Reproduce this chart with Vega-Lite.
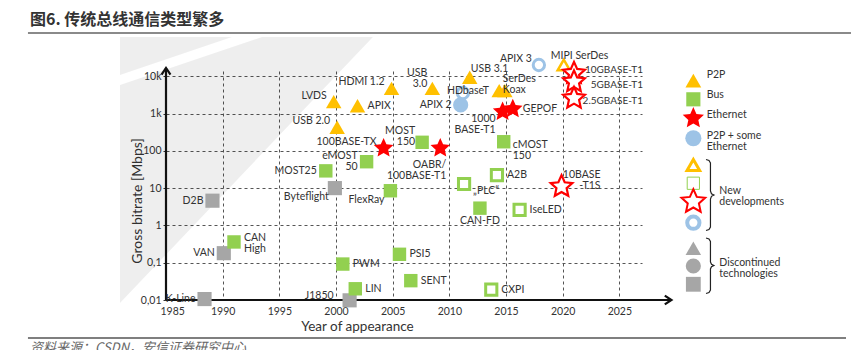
{
  "$schema": "https://vega.github.io/schema/vega-lite/v6.json",
  "autosize": {"type": "none"},
  "padding": {"left": 166, "top": 71, "right": 209, "bottom": 50},
  "width": 476,
  "height": 229,
  "background": "white",
  "config": {"view": {"stroke": null}, "text": {"lineHeight": 11}},
  "datasets": {
    "pts": [
      {"label": "LVDS", "yr": 1999.8, "val": 2080, "type": "P2P", "st": "cur"},
      {"label": "APIX", "yr": 2001.9, "val": 1620, "type": "P2P", "st": "cur"},
      {"label": "HDMI 1.2", "yr": 2004.9, "val": 4730, "type": "P2P", "st": "cur"},
      {"label": "USB 2.0", "yr": 2000.1, "val": 427, "type": "P2P", "st": "cur"},
      {"label": "USB\n3.0", "yr": 2008.5, "val": 4730, "type": "P2P", "st": "cur"},
      {"label": "USB 3.1", "yr": 2011.8, "val": 9350, "type": "P2P", "st": "cur"},
      {"label": null, "yr": 2014.4, "val": 4100, "type": "P2P", "st": "cur"},
      {"label": "SerDes\nKoax", "yr": 2014.9, "val": 4100, "type": "P2P", "st": "cur"},
      {"label": "MOST\n150", "yr": 2007.6, "val": 169, "type": "Bus", "st": "cur"},
      {"label": "eMOST\n50", "yr": 2002.7, "val": 51, "type": "Bus", "st": "cur"},
      {"label": "MOST25", "yr": 1999.1, "val": 29, "type": "Bus", "st": "cur"},
      {"label": "FlexRay", "yr": 2004.8, "val": 8.5, "type": "Bus", "st": "cur"},
      {"label": "CAN\nHigh", "yr": 1991.0, "val": 0.36, "type": "Bus", "st": "cur"},
      {"label": "PWM", "yr": 2000.6, "val": 0.092, "type": "Bus", "st": "cur"},
      {"label": "LIN", "yr": 2001.7, "val": 0.02, "type": "Bus", "st": "cur"},
      {"label": "PSI5", "yr": 2005.6, "val": 0.168, "type": "Bus", "st": "cur"},
      {"label": "SENT", "yr": 2006.6, "val": 0.033, "type": "Bus", "st": "cur"},
      {"label": "cMOST\n150", "yr": 2014.8, "val": 175, "type": "Bus", "st": "cur"},
      {"label": "CAN-FD", "yr": 2012.7, "val": 2.9, "type": "Bus", "st": "cur"},
      {"label": "100BASE-TX", "yr": 2004.2, "val": 117, "type": "Ethernet", "st": "cur"},
      {"label": "OABR/\n100BASE-T1", "yr": 2009.2, "val": 117, "type": "Ethernet", "st": "cur"},
      {"label": "1000\nBASE-T1", "yr": 2014.7, "val": 1120, "type": "Ethernet", "st": "cur"},
      {"label": "GEPOF", "yr": 2015.6, "val": 1320, "type": "Ethernet", "st": "cur"},
      {"label": "APIX 2", "yr": 2011.0, "val": 1700, "type": "P2P+Eth", "st": "cur"},
      {"label": "MIPI SerDes", "yr": 2020.1, "val": 20000, "type": "P2P", "st": "new"},
      {"label": "HDbaseT", "yr": 2011.2, "val": 3550, "type": "P2P+Eth", "st": "new"},
      {"label": "APIX 3", "yr": 2017.9, "val": 20000, "type": "P2P+Eth", "st": "new"},
      {"label": "10GBASE-T1", "yr": 2021.0, "val": 12000, "type": "Ethernet", "st": "new"},
      {"label": "5GBASE-T1", "yr": 2021.0, "val": 7100, "type": "Ethernet", "st": "new"},
      {"label": "2.5GBASE-T1", "yr": 2021.0, "val": 2560, "type": "Ethernet", "st": "new"},
      {"label": "10BASE\n-T1S", "yr": 2019.9, "val": 11, "type": "Ethernet", "st": "new"},
      {"label": "A2B", "yr": 2014.2, "val": 22.4, "type": "Bus", "st": "new"},
      {"label": "„PLC“", "yr": 2011.3, "val": 12.9, "type": "Bus", "st": "new"},
      {"label": "IseLED", "yr": 2016.2, "val": 2.6, "type": "Bus", "st": "new"},
      {"label": "CXPI", "yr": 2013.7, "val": 0.019, "type": "Bus", "st": "new"},
      {"label": "Byteflight", "yr": 1999.9, "val": 10, "type": "Bus", "st": "old"},
      {"label": "D2B", "yr": 1989.1, "val": 4.6, "type": "Bus", "st": "old"},
      {"label": "VAN", "yr": 1990.1, "val": 0.18, "type": "Bus", "st": "old"},
      {"label": "K-Line", "yr": 1988.4, "val": 0.0106, "type": "Bus", "st": "old"},
      {"label": "J1850", "yr": 2001.2, "val": 0.0098, "type": "Bus", "st": "old"}
    ],
    "lg": [
      {"type": "P2P", "st": "cur", "yr": 2031.53, "val": 7590},
      {"type": "Bus", "st": "cur", "yr": 2031.53, "val": 2404},
      {"type": "Ethernet", "st": "cur", "yr": 2031.53, "val": 745},
      {"type": "P2P+Eth", "st": "cur", "yr": 2031.53, "val": 217},
      {"type": "P2P", "st": "new", "yr": 2031.53, "val": 41.7},
      {"type": "Bus", "st": "new", "yr": 2031.53, "val": 13.5},
      {"type": "Ethernet", "st": "new", "yr": 2031.53, "val": 4.33},
      {"type": "P2P+Eth", "st": "new", "yr": 2031.53, "val": 1.18},
      {"type": "P2P", "st": "old", "yr": 2031.53, "val": 0.243},
      {"type": "P2P+Eth", "st": "old", "yr": 2031.53, "val": 0.0816},
      {"type": "Bus", "st": "old", "yr": 2031.53, "val": 0.0264}
    ],
    "lgt": [
      {"text": "P2P", "yr": 2032.71, "val": 10790},
      {"text": "Bus", "yr": 2032.71, "val": 3133},
      {"text": "Ethernet", "yr": 2032.71, "val": 912},
      {"text": "P2P + some\nEthernet", "yr": 2032.71, "val": 250},
      {"text": "New\ndevelopments", "yr": 2033.82, "val": 8.5},
      {"text": "Discontinued\ntechnologies", "yr": 2033.82, "val": 0.1}
    ],
    "br": [
      {"b": 1, "o": 1, "yr": 2032.65, "val": 58.5},
      {"b": 1, "o": 2, "yr": 2032.91, "val": 55.0},
      {"b": 1, "o": 3, "yr": 2033.04, "val": 47.1},
      {"b": 1, "o": 4, "yr": 2033.04, "val": 8.36},
      {"b": 1, "o": 5, "yr": 2033.13, "val": 7.08},
      {"b": 1, "o": 6, "yr": 2033.35, "val": 6.53},
      {"b": 1, "o": 7, "yr": 2033.13, "val": 6.03},
      {"b": 1, "o": 8, "yr": 2033.04, "val": 5.10},
      {"b": 1, "o": 9, "yr": 2033.04, "val": 0.906},
      {"b": 1, "o": 10, "yr": 2032.91, "val": 0.776},
      {"b": 1, "o": 11, "yr": 2032.65, "val": 0.730},
      {"b": 2, "o": 1, "yr": 2032.65, "val": 0.459},
      {"b": 2, "o": 2, "yr": 2032.91, "val": 0.431},
      {"b": 2, "o": 3, "yr": 2033.04, "val": 0.370},
      {"b": 2, "o": 4, "yr": 2033.04, "val": 0.1045},
      {"b": 2, "o": 5, "yr": 2033.13, "val": 0.0912},
      {"b": 2, "o": 6, "yr": 2033.35, "val": 0.0841},
      {"b": 2, "o": 7, "yr": 2033.13, "val": 0.0776},
      {"b": 2, "o": 8, "yr": 2033.04, "val": 0.0678},
      {"b": 2, "o": 9, "yr": 2033.04, "val": 0.01853},
      {"b": 2, "o": 10, "yr": 2032.91, "val": 0.01589},
      {"b": 2, "o": 11, "yr": 2032.65, "val": 0.01493}
    ],
    "bg": [
      {"part": "a", "yr": 1980.94, "val": 0.00831, "val2": 5821},
      {"part": "a", "yr": 1993.47, "val": 84.1, "val2": 112400},
      {"part": "a", "yr": 2003.26, "val": 112400, "val2": 112400},
      {"part": "b", "yr": 1980.94, "val": 10790, "val2": 112400},
      {"part": "b", "yr": 1990.82, "val": 112400, "val2": 112400}
    ],
    "axl": [
      {"yr": 1985, "val": 0.01, "yr2": 1985, "val2": 16600},
      {"yr": 1985, "val": 0.01, "yr2": 2029.6, "val2": 0.01}
    ],
    "arr": [
      {"dir": "up", "yr": 1985, "val": 16600},
      {"dir": "right", "yr": 2029.6, "val": 0.01}
    ],
    "fr": [
      {"kind": "top", "yr": 1972.82, "val": 144200, "yr2": 2045.44, "val2": 144200},
      {"kind": "bottom", "yr": 1972.82, "val": 0.000957, "yr2": 2045.0, "val2": 0.000957}
    ],
    "txt": [
      {"kind": "head", "text": "图6. 传统总线通信类型繁多", "yr": 1973.0, "val": 321400},
      {"kind": "foot", "text": "资料来源：CSDN，安信证券研究中心", "yr": 1973.0, "val": 0.00077}
    ]
  },
  "encoding": {
    "x": {
      "field": "yr", "type": "quantitative",
      "scale": {"domain": [1985, 2027], "nice": false, "zero": false},
      "axis": {
        "values": [1985, 1990, 1995, 2000, 2005, 2010, 2015, 2020, 2025],
        "format": "d", "grid": true, "gridDash": [3, 3], "gridColor": "#555", "gridWidth": 1,
        "domain": false, "ticks": false, "labelPadding": 6, "labelFlush": true, "labelFlushOffset": 6,
        "labelFont": "Lato", "labelFontSize": 10.5, "labelColor": "#333",
        "title": "Year of appearance", "titleFont": "Lato", "titleFontSize": 13.5,
        "titleFontWeight": "normal", "titleColor": "#333",
        "titleX": 191, "titleY": 26, "titleBaseline": "middle", "titleAlign": "center"
      }
    },
    "y": {
      "field": "val", "type": "quantitative",
      "scale": {"type": "log", "domain": [0.01, 13800], "nice": false},
      "axis": {
        "values": [0.01, 0.1, 1, 10, 100, 1000, 10000],
        "labelExpr": "datum.value >= 10000 ? '10k' : datum.value >= 1000 ? '1k' : datum.value >= 100 ? '100' : datum.value >= 10 ? '10' : datum.value >= 1 ? '1' : datum.value >= 0.1 ? '0,1' : '0,01'",
        "grid": true, "gridDash": [3, 3], "gridColor": "#555", "gridWidth": 1,
        "domain": false, "ticks": true, "tickSize": 3, "tickColor": "#333", "labelPadding": 2,
        "labelFont": "Lato", "labelFontSize": 10.5, "labelColor": "#333",
        "title": "Gross bitrate [Mbps]", "titleFont": "Lato", "titleFontSize": 14,
        "titleFontWeight": "normal", "titleColor": "#333",
        "titleX": -28.5, "titleY": 129.5, "titleBaseline": "middle", "titleAlign": "center"
      }
    }
  },
  "resolve": {"scale": {"size": "independent"}},
  "layer": [
    {
      "data": {"name": "bg"},
      "mark": {"type": "area", "fill": "#000", "opacity": 0.065},
      "encoding": {"y2": {"field": "val2"}, "detail": {"field": "part"}}
    },
    {
      "data": {"name": "fr"},
      "transform": [{"filter": "datum.kind == 'top'"}],
      "mark": {"type": "rule", "stroke": "#8a8a8a", "strokeWidth": 2},
      "encoding": {"x2": {"field": "yr2"}, "y2": {"field": "val2"}}
    },
    {
      "data": {"name": "fr"},
      "transform": [{"filter": "datum.kind == 'bottom'"}],
      "mark": {"type": "rule", "stroke": "#555", "strokeWidth": 1.5},
      "encoding": {"x2": {"field": "yr2"}, "y2": {"field": "val2"}}
    },
    {
      "data": {"name": "txt"},
      "transform": [{"filter": "datum.kind == 'head'"}],
      "mark": {"type": "text", "align": "left", "baseline": "middle", "font": "Noto Sans CJK SC", "fontSize": 16, "fontWeight": "bold", "fill": "#333"},
      "encoding": {"text": {"field": "text"}}
    },
    {
      "data": {"name": "txt"},
      "transform": [{"filter": "datum.kind == 'foot'"}],
      "mark": {"type": "text", "align": "left", "baseline": "top", "font": "Noto Sans CJK SC", "fontSize": 13, "fontStyle": "italic", "fill": "#666"},
      "encoding": {"text": {"field": "text"}}
    },
    {
      "data": {"name": "axl"},
      "mark": {"type": "rule", "stroke": "#111", "strokeWidth": 2.2},
      "encoding": {"x2": {"field": "yr2"}, "y2": {"field": "val2"}}
    },
    {
      "data": {"name": "arr"},
      "transform": [{"filter": "datum.dir == 'up'"}],
      "mark": {"type": "point", "shape": "M-0.6,0.9L0,0L0.6,0.9", "size": 220, "filled": false, "stroke": "#111", "strokeWidth": 2.2, "opacity": 1}
    },
    {
      "data": {"name": "arr"},
      "transform": [{"filter": "datum.dir == 'right'"}],
      "mark": {"type": "point", "shape": "M-0.9,-0.6L0,0L-0.9,0.6", "size": 220, "filled": false, "stroke": "#111", "strokeWidth": 2.2, "opacity": 1}
    },
    {
      "data": {"name": "pts"},
      "transform": [{"filter": "datum.st == 'old'"}],
      "mark": {"type": "point", "filled": true, "fill": "#A6A6A6", "strokeWidth": 0, "opacity": 1},
      "encoding": {
        "shape": {"field": "type", "scale": {"domain": ["P2P", "Bus", "Ethernet", "P2P+Eth"], "range": ["triangle-up", "square", "M0,-1L0.276,-0.38L0.951,-0.309L0.447,0.145L0.588,0.809L0,0.47L-0.588,0.809L-0.447,0.145L-0.951,-0.309L-0.276,-0.38Z", "circle"]}, "legend": null},
        "size": {"field": "type", "scale": {"type": "ordinal", "domain": ["P2P", "Bus", "Ethernet", "P2P+Eth"], "range": [230, 200, 420, 230]}, "legend": null}
      }
    },
    {
      "data": {"name": "pts"},
      "transform": [{"filter": "datum.st == 'cur'"}],
      "mark": {"type": "point", "filled": true, "strokeWidth": 0, "opacity": 1},
      "encoding": {
        "shape": {"field": "type", "legend": null},
        "fill": {"field": "type", "scale": {"domain": ["P2P", "Bus", "Ethernet", "P2P+Eth"], "range": ["#FFC000", "#92D050", "#FF0000", "#9DC3E6"]}, "legend": null},
        "size": {"field": "type", "scale": {"type": "ordinal", "domain": ["P2P", "Bus", "Ethernet", "P2P+Eth"], "range": [240, 180, 420, 230]}, "legend": null}
      }
    },
    {
      "data": {"name": "pts"},
      "transform": [{"filter": "datum.st == 'new'"}],
      "mark": {"type": "point", "filled": true, "fill": "white", "opacity": 1},
      "encoding": {
        "shape": {"field": "type", "legend": null},
        "stroke": {"field": "type", "scale": {"domain": ["P2P", "Bus", "Ethernet", "P2P+Eth"], "range": ["#FFC000", "#92D050", "#FF0000", "#9DC3E6"]}, "legend": null},
        "strokeWidth": {"field": "type", "scale": {"type": "ordinal", "domain": ["P2P", "Bus", "Ethernet", "P2P+Eth"], "range": [2.5, 3, 2.2, 3]}, "legend": null},
        "size": {"field": "type", "scale": {"type": "ordinal", "domain": ["P2P", "Bus", "Ethernet", "P2P+Eth"], "range": [150, 125, 520, 128]}, "legend": null}
      }
    },
    {
      "data": {"name": "lg"},
      "transform": [{"filter": "datum.st == 'old'"}],
      "mark": {"type": "point", "filled": true, "fill": "#A6A6A6", "strokeWidth": 0, "opacity": 1},
      "encoding": {
        "shape": {"field": "type", "legend": null},
        "size": {"field": "type", "scale": {"type": "ordinal", "domain": ["P2P", "Bus", "Ethernet", "P2P+Eth"], "range": [240, 220, 420, 230]}, "legend": null}
      }
    },
    {
      "data": {"name": "lg"},
      "transform": [{"filter": "datum.st == 'cur'"}],
      "mark": {"type": "point", "filled": true, "strokeWidth": 0, "opacity": 1},
      "encoding": {
        "shape": {"field": "type", "legend": null},
        "fill": {"field": "type", "legend": null},
        "size": {"field": "type", "scale": {"type": "ordinal", "domain": ["P2P", "Bus", "Ethernet", "P2P+Eth"], "range": [250, 200, 500, 260]}, "legend": null}
      }
    },
    {
      "data": {"name": "lg"},
      "transform": [{"filter": "datum.st == 'new'"}],
      "mark": {"type": "point", "filled": true, "fill": "white", "opacity": 1},
      "encoding": {
        "shape": {"field": "type", "legend": null},
        "stroke": {"field": "type", "legend": null},
        "strokeWidth": {"field": "type", "legend": null},
        "size": {"field": "type", "scale": {"type": "ordinal", "domain": ["P2P", "Bus", "Ethernet", "P2P+Eth"], "range": [160, 150, 620, 150]}, "legend": null}
      }
    },
    {
      "data": {"name": "lgt"},
      "mark": {"type": "text", "align": "left", "baseline": "middle", "font": "Lato", "fontSize": 10.5, "fill": "#333", "lineBreak": "\n", "lineHeight": 11},
      "encoding": {"text": {"field": "text"}}
    },
    {
      "data": {"name": "br"},
      "mark": {"type": "line", "stroke": "#222", "strokeWidth": 1.2},
      "encoding": {"detail": {"field": "b"}, "order": {"field": "o"}}
    },
    {
      "data": {"name": "pts"},
      "transform": [{"filter": {"field": "label", "oneOf": ["APIX", "LIN", "PSI5", "SENT", "A2B", "IseLED", "CXPI", "GEPOF", "PWM"]}}],
      "mark": {"type": "text", "align": "left", "baseline": "middle", "dx": 10, "dy": 0, "font": "Lato", "fontSize": 10.5, "fill": "#333"},
      "encoding": {"text": {"field": "label"}}
    },
    {
      "data": {"name": "pts"},
      "transform": [{"filter": {"field": "label", "oneOf": ["CAN\nHigh"]}}],
      "mark": {"type": "text", "align": "left", "baseline": "middle", "dx": 10, "dy": -4, "font": "Lato", "fontSize": 10.5, "fill": "#333", "lineBreak": "\n", "lineHeight": 11},
      "encoding": {"text": {"field": "label"}}
    },
    {
      "data": {"name": "pts"},
      "transform": [{"filter": {"field": "label", "oneOf": ["APIX 2", "MOST25", "D2B", "VAN", "K-Line"]}}],
      "mark": {"type": "text", "align": "right", "baseline": "middle", "dx": -9, "dy": 0, "font": "Lato", "fontSize": 10.5, "fill": "#333"},
      "encoding": {"text": {"field": "label"}}
    },
    {
      "data": {"name": "pts"},
      "transform": [{"filter": {"field": "label", "oneOf": ["eMOST\n50"]}}],
      "mark": {"type": "text", "align": "right", "baseline": "middle", "dx": -9, "dy": -6, "font": "Lato", "fontSize": 10.5, "fill": "#333", "lineBreak": "\n", "lineHeight": 11},
      "encoding": {"text": {"field": "label"}}
    },
    {
      "data": {"name": "pts"},
      "transform": [{"filter": {"field": "label", "oneOf": ["LVDS", "HDMI 1.2", "USB 2.0", "APIX 3", "100BASE-TX"]}}],
      "mark": {"type": "text", "align": "right", "baseline": "middle", "dx": -7, "dy": -6, "font": "Lato", "fontSize": 10.5, "fill": "#333"},
      "encoding": {"text": {"field": "label"}}
    },
    {
      "data": {"name": "pts"},
      "transform": [{"filter": {"field": "label", "oneOf": ["MOST\n150"]}}],
      "mark": {"type": "text", "align": "right", "baseline": "middle", "dx": -7, "dy": -11, "font": "Lato", "fontSize": 10.5, "fill": "#333", "lineBreak": "\n", "lineHeight": 11},
      "encoding": {"text": {"field": "label"}}
    },
    {
      "data": {"name": "pts"},
      "transform": [{"filter": {"field": "label", "oneOf": ["USB\n3.0"]}}],
      "mark": {"type": "text", "align": "right", "baseline": "middle", "dx": -5, "dy": -15, "font": "Lato", "fontSize": 10.5, "fill": "#333", "lineBreak": "\n", "lineHeight": 11},
      "encoding": {"text": {"field": "label"}}
    },
    {
      "data": {"name": "pts"},
      "transform": [{"filter": {"field": "label", "oneOf": ["USB 3.1"]}}],
      "mark": {"type": "text", "align": "left", "baseline": "middle", "dx": 1, "dy": -8, "font": "Lato", "fontSize": 10.5, "fill": "#333"},
      "encoding": {"text": {"field": "label"}}
    },
    {
      "data": {"name": "pts"},
      "transform": [{"filter": {"field": "label", "oneOf": ["SerDes\nKoax"]}}],
      "mark": {"type": "text", "align": "left", "baseline": "middle", "dx": -2, "dy": -12, "font": "Lato", "fontSize": 10.5, "fill": "#333", "lineBreak": "\n", "lineHeight": 11},
      "encoding": {"text": {"field": "label"}}
    },
    {
      "data": {"name": "pts"},
      "transform": [{"filter": {"field": "label", "oneOf": ["Byteflight", "FlexRay"]}}],
      "mark": {"type": "text", "align": "right", "baseline": "middle", "dx": -6, "dy": 9, "font": "Lato", "fontSize": 10.5, "fill": "#333"},
      "encoding": {"text": {"field": "label"}}
    },
    {
      "data": {"name": "pts"},
      "transform": [{"filter": {"field": "label", "oneOf": ["1000\nBASE-T1"]}}],
      "mark": {"type": "text", "align": "right", "baseline": "middle", "dx": -7, "dy": 7, "font": "Lato", "fontSize": 10.5, "fill": "#333", "lineBreak": "\n", "lineHeight": 11},
      "encoding": {"text": {"field": "label"}}
    },
    {
      "data": {"name": "pts"},
      "transform": [{"filter": {"field": "label", "oneOf": ["„PLC“"]}}],
      "mark": {"type": "text", "align": "left", "baseline": "middle", "dx": 9, "dy": 7, "font": "Lato", "fontSize": 10.5, "fill": "#333"},
      "encoding": {"text": {"field": "label"}}
    },
    {
      "data": {"name": "pts"},
      "transform": [{"filter": {"field": "label", "oneOf": ["cMOST\n150"]}}],
      "mark": {"type": "text", "align": "left", "baseline": "middle", "dx": 9, "dy": 3, "font": "Lato", "fontSize": 10.5, "fill": "#333", "lineBreak": "\n", "lineHeight": 11},
      "encoding": {"text": {"field": "label"}}
    },
    {
      "data": {"name": "pts"},
      "transform": [{"filter": {"field": "label", "oneOf": ["CAN-FD"]}}],
      "mark": {"type": "text", "align": "center", "baseline": "middle", "dx": 0, "dy": 13, "font": "Lato", "fontSize": 10.5, "fill": "#333"},
      "encoding": {"text": {"field": "label"}}
    },
    {
      "data": {"name": "pts"},
      "transform": [{"filter": {"field": "label", "oneOf": ["10GBASE-T1"]}}],
      "mark": {"type": "text", "align": "right", "baseline": "middle", "dx": 69, "dy": -3, "font": "Lato", "fontSize": 10, "fill": "#333"},
      "encoding": {"text": {"field": "label"}}
    },
    {
      "data": {"name": "pts"},
      "transform": [{"filter": {"field": "label", "oneOf": ["5GBASE-T1", "2.5GBASE-T1"]}}],
      "mark": {"type": "text", "align": "right", "baseline": "middle", "dx": 69, "dy": 3, "font": "Lato", "fontSize": 10, "fill": "#333"},
      "encoding": {"text": {"field": "label"}}
    },
    {
      "data": {"name": "pts"},
      "transform": [{"filter": {"field": "label", "oneOf": ["OABR/\n100BASE-T1"]}}],
      "mark": {"type": "text", "align": "right", "baseline": "middle", "dx": 6, "dy": 17, "font": "Lato", "fontSize": 10.5, "fill": "#333", "lineBreak": "\n", "lineHeight": 11},
      "encoding": {"text": {"field": "label"}}
    },
    {
      "data": {"name": "pts"},
      "transform": [{"filter": {"field": "label", "oneOf": ["10BASE\n-T1S"]}}],
      "mark": {"type": "text", "align": "right", "baseline": "middle", "dx": 39, "dy": -12, "font": "Lato", "fontSize": 10.5, "fill": "#333", "lineBreak": "\n", "lineHeight": 11},
      "encoding": {"text": {"field": "label"}}
    },
    {
      "data": {"name": "pts"},
      "transform": [{"filter": {"field": "label", "oneOf": ["MIPI SerDes"]}}],
      "mark": {"type": "text", "align": "left", "baseline": "middle", "dx": -13, "dy": -9, "font": "Lato", "fontSize": 10.5, "fill": "#333"},
      "encoding": {"text": {"field": "label"}}
    },
    {
      "data": {"name": "pts"},
      "transform": [{"filter": {"field": "label", "oneOf": ["HDbaseT"]}}],
      "mark": {"type": "text", "align": "center", "baseline": "middle", "dx": 5, "dy": -2, "font": "Lato", "fontSize": 10.5, "fill": "#333"},
      "encoding": {"text": {"field": "label"}}
    },
    {
      "data": {"name": "pts"},
      "transform": [{"filter": {"field": "label", "oneOf": ["J1850"]}}],
      "mark": {"type": "text", "align": "right", "baseline": "middle", "dx": -16, "dy": -4, "font": "Lato", "fontSize": 10.5, "fill": "#333"},
      "encoding": {"text": {"field": "label"}}
    }
  ]
}
